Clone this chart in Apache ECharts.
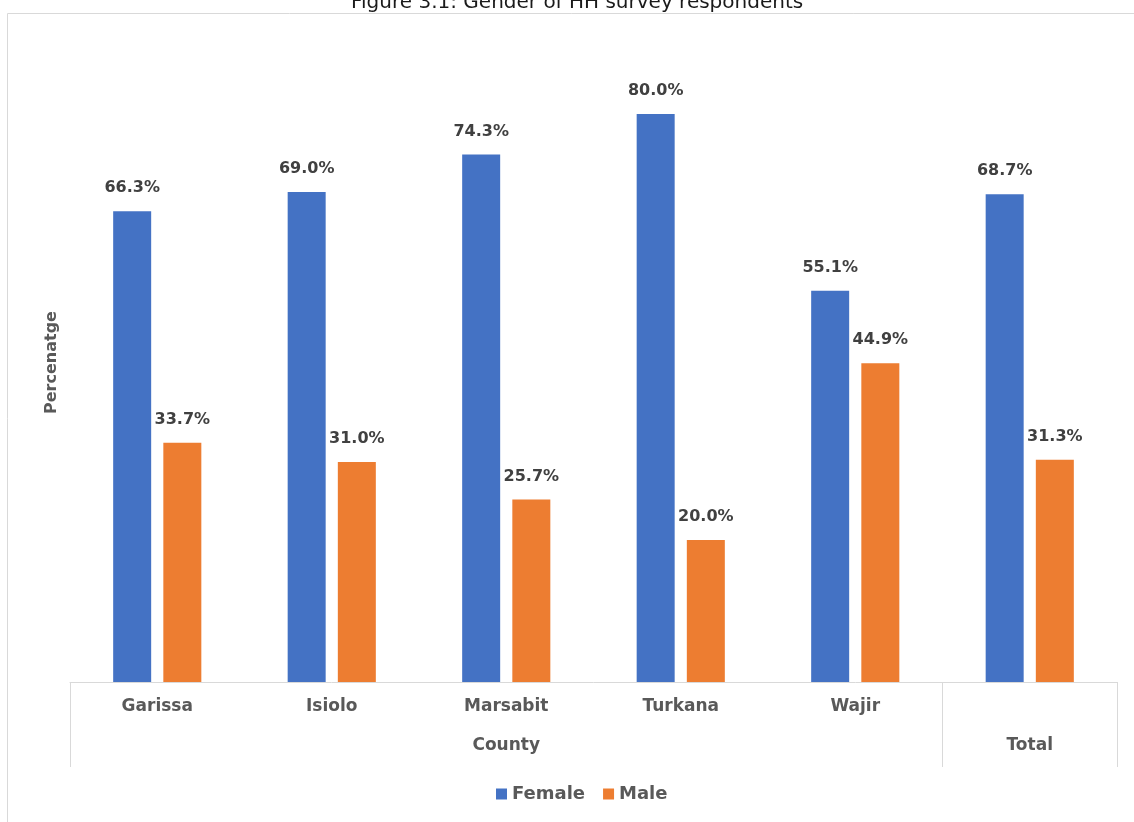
<!DOCTYPE html>
<html>
<head>
<meta charset="utf-8">
<script src="https://cdn.jsdelivr.net/npm/echarts@6/dist/echarts.min.js"></script>
<style>
  html, body { margin: 0; padding: 0; background: #fff; }
  #chart { width: 1134px; height: 822px; }
</style>
</head>
<body>
<div id="chart"></div>
<script>
// Household survey respondents by gender, per county and overall
const categories = ['Garissa', 'Isiolo', 'Marsabit', 'Turkana', 'Wajir', 'Total'];
const female = [66.3, 69.0, 74.3, 80.0, 55.1, 68.7];
const male = [33.7, 31.0, 25.7, 20.0, 44.9, 31.3];
// Outer grouping level of the category axis: [label, start index, end index]
const groups = [['County', 0, 5], ['Total', 5, 6]];

const FONT = 'DejaVu Sans';
const TEXT = '#595959';

const chart = echarts.init(document.getElementById('chart'));

const groupCenters = groups.map(g => (g[1] + g[2]) / 2);
const groupEdges = [0].concat(groups.map(g => g[2]));
// A single-member group carries its name on the outer level only
const soloNames = groups.filter(g => g[2] - g[1] === 1).map(g => g[0]);

const labelStyle = {
  show: true,
  position: 'top',
  distance: 15,
  formatter: p => p.value.toFixed(1) + '%',
  fontFamily: FONT,
  fontWeight: 'bold',
  fontSize: 16,
  color: '#404040'
};

chart.setOption({
  animation: false,
  title: {
    text: 'Figure 3.1: Gender of HH survey respondents',
    left: 346,
    top: -12,
    textStyle: { fontFamily: FONT, fontWeight: 'normal', fontSize: 20, color: '#1a1a1a' }
  },
  graphic: [{
    type: 'rect',
    shape: { x: 7.5, y: 13.5, width: 1200, height: 900 },
    style: { fill: 'none', stroke: '#d9d9d9', lineWidth: 1 },
    silent: true
  }],
  legend: {
    data: ['Female', 'Male'],
    bottom: 14,
    left: 491,
    icon: 'rect',
    itemWidth: 11,
    itemHeight: 11,
    itemGap: 18,
    textStyle: { fontFamily: FONT, fontWeight: 'bold', fontSize: 18, color: TEXT }
  },
  grid: { left: 70, right: 17, top: 43, bottom: 140, containLabel: false },
  xAxis: [{
    type: 'category',
    data: categories,
    axisLine: { show: true, lineStyle: { color: '#d9d9d9', width: 1 } },
    axisTick: { show: false },
    axisLabel: {
      margin: 16,
      formatter: v => (soloNames.indexOf(v) >= 0 ? '' : v),
      fontFamily: FONT, fontWeight: 'bold', fontSize: 17, color: TEXT
    }
  }, {
    type: 'value',
    min: 0,
    max: categories.length,
    position: 'bottom',
    axisLine: { show: false },
    splitLine: { show: false },
    axisTick: {
      show: true,
      length: 85,
      customValues: groupEdges,
      lineStyle: { color: '#d9d9d9', width: 1 }
    },
    axisLabel: {
      show: true,
      margin: 55,
      customValues: groupCenters,
      formatter: v => {
        const g = groups.find(gr => (gr[1] + gr[2]) / 2 === v);
        return g ? g[0] : '';
      },
      fontFamily: FONT, fontWeight: 'bold', fontSize: 17, color: TEXT
    }
  }],
  yAxis: {
    type: 'value',
    min: 0,
    max: 90,
    interval: 10,
    name: 'Percenatge',
    nameLocation: 'middle',
    nameGap: 10,
    nameTextStyle: { fontFamily: FONT, fontWeight: 'bold', fontSize: 16, color: TEXT },
    axisLine: { show: false },
    axisTick: { show: false },
    axisLabel: { show: false },
    splitLine: { show: false }
  },
  series: [{
    name: 'Female',
    type: 'bar',
    data: female,
    barWidth: 38,
    barGap: '32%',
    itemStyle: { color: '#4472C4' },
    label: labelStyle
  }, {
    name: 'Male',
    type: 'bar',
    data: male,
    barWidth: 38,
    barGap: '32%',
    itemStyle: { color: '#ED7D31' },
    label: labelStyle
  }]
});
</script>
</body>
</html>
